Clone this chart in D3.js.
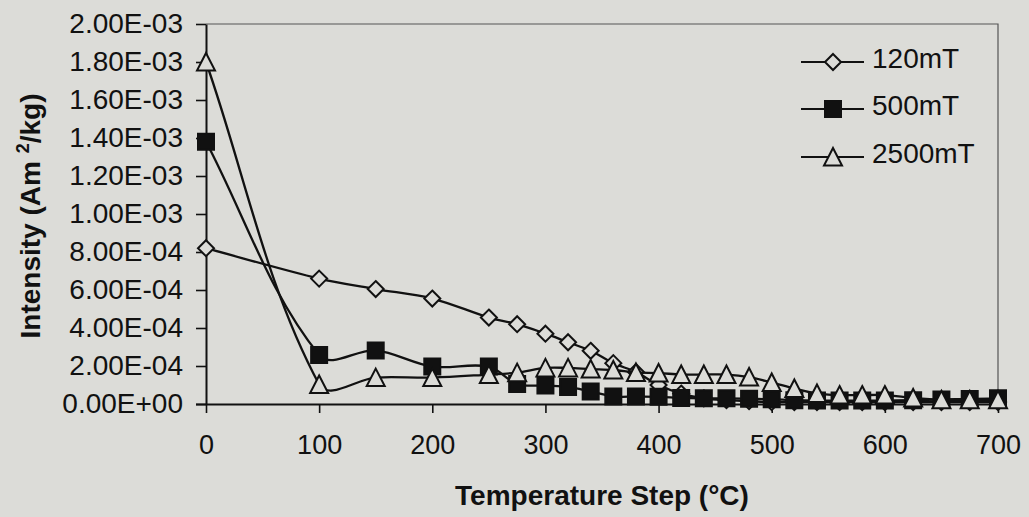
<!DOCTYPE html>
<html>
<head>
<meta charset="utf-8">
<script src="https://cdn.jsdelivr.net/npm/d3@7/dist/d3.min.js"></script>
<style>
  html, body { margin: 0; padding: 0; background: #dcdcd8; }
  svg { display: block; font-family: "Liberation Sans", Arial, sans-serif; }
</style>
</head>
<body>
<svg id="chart" width="1029" height="517"></svg>
<script>
// Demagnetisation steps (°C)
const temperatures = [0, 100, 150, 200, 250, 275, 300, 320, 340, 360, 380, 400, 420, 440, 460, 480, 500, 520, 540, 560, 580, 600, 625, 650, 675, 700];

// Remanence intensity (Am²/kg) for each IRM acquisition field
const intensity120 = [8.2e-4, 6.6e-4, 6.05e-4, 5.55e-4, 4.55e-4, 4.2e-4, 3.7e-4, 3.25e-4, 2.8e-4, 2.15e-4, 1.68e-4, 1.0e-4, 0.55e-4, 0.3e-4, 0.2e-4, 0.15e-4, 0.1e-4, 0.1e-4, 0.1e-4, 0.1e-4, 0.1e-4, 0.1e-4, 0.1e-4, 0.1e-4, 0.1e-4, 0.1e-4];
const intensity500 = [1.38e-3, 2.58e-4, 2.82e-4, 1.97e-4, 1.97e-4, 1.05e-4, 0.97e-4, 0.9e-4, 0.66e-4, 0.4e-4, 0.39e-4, 0.38e-4, 0.32e-4, 0.3e-4, 0.3e-4, 0.28e-4, 0.25e-4, 0.2e-4, 0.18e-4, 0.18e-4, 0.18e-4, 0.18e-4, 0.2e-4, 0.24e-4, 0.26e-4, 0.3e-4];
const intensity2500 = [1.8e-3, 1.03e-4, 1.39e-4, 1.39e-4, 1.55e-4, 1.65e-4, 1.9e-4, 1.9e-4, 1.84e-4, 1.79e-4, 1.66e-4, 1.63e-4, 1.55e-4, 1.55e-4, 1.55e-4, 1.42e-4, 1.13e-4, 0.82e-4, 0.55e-4, 0.47e-4, 0.47e-4, 0.47e-4, 0.32e-4, 0.22e-4, 0.22e-4, 0.22e-4];

const seriesNames = ["120mT", "500mT", "2500mT"];

const xTickValues = [0, 100, 200, 300, 400, 500, 600, 700];
const yTickValues = [0, 2e-4, 4e-4, 6e-4, 8e-4, 1e-3, 1.2e-3, 1.4e-3, 1.6e-3, 1.8e-3, 2e-3];
const yTickLabels = ["0.00E+00", "2.00E-04", "4.00E-04", "6.00E-04", "8.00E-04", "1.00E-03", "1.20E-03", "1.40E-03", "1.60E-03", "1.80E-03", "2.00E-03"];

const paper = "#dcdcd8";
const ink = "#111";

const svg = d3.select("#chart");
const plot = { left: 206, right: 998, top: 24, bottom: 404 };

const x = d3.scaleLinear().domain([0, 700]).range([plot.left, plot.right]);
const y = d3.scaleLinear().domain([0, 2e-3]).range([plot.bottom, plot.top]);

// Smoothed polyline: cubic Béziers whose handle lengths are a third of the
// adjacent segment, pointing along the neighbour-to-neighbour direction.
function smoothPath(pts) {
  const p = d3.path();
  const n = pts.length;
  const dist = (a, b) => Math.hypot(b[0] - a[0], b[1] - a[1]);
  const tangent = i => {
    const a = pts[Math.max(0, i - 1)], b = pts[Math.min(n - 1, i + 1)];
    const len = dist(a, b) || 1;
    return [(b[0] - a[0]) / len, (b[1] - a[1]) / len];
  };
  p.moveTo(pts[0][0], pts[0][1]);
  for (let i = 0; i < n - 1; i++) {
    const a = pts[i], b = pts[i + 1];
    const seg = dist(a, b) / 3;
    const ta = tangent(i), tb = tangent(i + 1);
    p.bezierCurveTo(a[0] + ta[0] * seg, a[1] + ta[1] * seg,
                    b[0] - tb[0] * seg, b[1] - tb[1] * seg,
                    b[0], b[1]);
  }
  return p.toString();
}

// Plot-area frame (top and right edges)
svg.append("path")
  .attr("d", `M${plot.left},${plot.top}H${plot.right}V${plot.bottom}`)
  .attr("fill", "none")
  .attr("stroke", "#555")
  .attr("stroke-width", 1.2);

// Y axis
const yAxis = svg.append("g")
  .attr("transform", `translate(${plot.left},0)`)
  .call(d3.axisLeft(y)
    .tickValues(yTickValues)
    .tickFormat((d, i) => yTickLabels[i])
    .tickSize(10)
    .tickSizeOuter(0)
    .tickPadding(13));
yAxis.select(".domain").attr("stroke", ink).attr("stroke-width", 2);
yAxis.selectAll(".tick line").attr("stroke", ink).attr("stroke-width", 1.6);
yAxis.selectAll(".tick text")
  .attr("fill", ink)
  .style("font-size", "28px")
  .style("font-family", "'Liberation Sans', Arial, sans-serif");

// X axis
const xAxis = svg.append("g")
  .attr("transform", `translate(0,${plot.bottom})`)
  .call(d3.axisBottom(x)
    .tickValues(xTickValues)
    .tickFormat(d3.format("d"))
    .tickSize(9)
    .tickSizeOuter(0)
    .tickPadding(22));
xAxis.select(".domain").attr("stroke", ink).attr("stroke-width", 2)
  .attr("d", `M${plot.left - 10},0.5H${plot.right}`);
xAxis.selectAll(".tick line").attr("stroke", ink).attr("stroke-width", 1.6);
xAxis.selectAll(".tick text")
  .attr("fill", ink)
  .style("font-size", "27px")
  .style("font-family", "'Liberation Sans', Arial, sans-serif");

// Axis titles
svg.append("text")
  .attr("x", (plot.left + plot.right) / 2)
  .attr("y", 505)
  .attr("text-anchor", "middle")
  .attr("fill", ink)
  .style("font-size", "28px")
  .style("font-weight", "bold")
  .text("Temperature Step (°C)");

const yTitle = svg.append("text")
  .attr("transform", `translate(40,${216}) rotate(-90)`)
  .attr("text-anchor", "middle")
  .attr("fill", ink)
  .style("font-size", "28px")
  .style("font-weight", "bold");
yTitle.append("tspan").text("Intensity (Am ");
yTitle.append("tspan").attr("dy", -11).style("font-size", "18px").text("2");
yTitle.append("tspan").attr("dy", 11).text("/kg)");

// Marker shapes
const markerPaths = {
  diamond: "M0,-8L8,0L0,8L-8,0Z",
  square: "M-8,-8H8V8H-8Z",
  triangle: "M0,-9L9,8.5H-9Z"
};

const series = [
  { name: seriesNames[0], values: intensity120, shape: "diamond", fill: paper },
  { name: seriesNames[1], values: intensity500, shape: "square", fill: ink },
  { name: seriesNames[2], values: intensity2500, shape: "triangle", fill: paper }
];

series.forEach(s => {
  const pts = temperatures.map((t, i) => [t, s.values[i]]);
  const g = svg.append("g");
  g.append("path")
    .attr("d", smoothPath(pts.map(d => [x(d[0]), y(d[1])])))
    .attr("fill", "none")
    .attr("stroke", ink)
    .attr("stroke-width", 2.3);
  g.selectAll("path.marker")
    .data(pts)
    .join("path")
    .attr("class", "marker")
    .attr("d", markerPaths[s.shape])
    .attr("transform", d => `translate(${x(d[0])},${y(d[1])})`)
    .attr("fill", s.fill)
    .attr("stroke", ink)
    .attr("stroke-width", 2);
});

// Legend
const legend = svg.append("g").attr("transform", "translate(801,0)");
const legendRows = [62, 109, 157];
series.forEach((s, i) => {
  const row = legend.append("g").attr("transform", `translate(0,${legendRows[i]})`);
  row.append("line")
    .attr("x1", 0).attr("x2", 63)
    .attr("stroke", ink).attr("stroke-width", 2);
  row.append("path")
    .attr("d", markerPaths[s.shape])
    .attr("transform", "translate(32,0)")
    .attr("fill", s.fill)
    .attr("stroke", ink)
    .attr("stroke-width", 2);
  row.append("text")
    .attr("x", 71)
    .attr("y", 6)
    .attr("fill", ink)
    .style("font-size", "28px")
    .text(s.name);
});
</script>
</body>
</html>
